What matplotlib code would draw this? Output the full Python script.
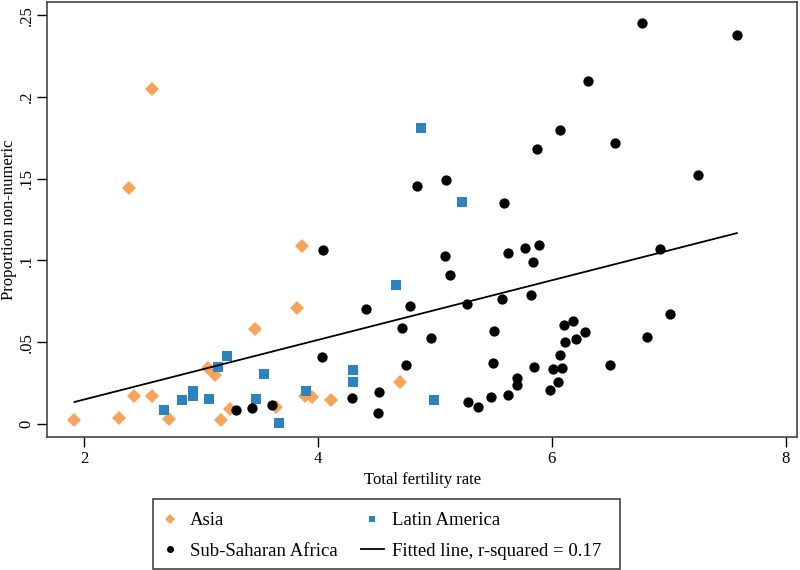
import numpy as np
import matplotlib
matplotlib.use("Agg")
import matplotlib.pyplot as plt
from matplotlib.lines import Line2D
from matplotlib.patches import Rectangle

plt.rcParams['font.family'] = ['Liberation Serif', 'DejaVu Serif']

# Asia
asia_x = [2.58, 2.387, 3.866, 3.818, 3.464, 3.057, 3.122, 2.43, 2.584, 1.917,
          2.30, 2.73, 3.168, 3.25, 3.644, 3.889, 3.951, 4.111, 4.698]
asia_y = [0.205, 0.144, 0.109, 0.071, 0.058, 0.034, 0.030, 0.017, 0.017, 0.0024,
          0.0035, 0.003, 0.0022, 0.0094, 0.0104, 0.0171, 0.0167, 0.0147, 0.0255]

# Latin America
latam_x = [4.88, 5.233, 4.664, 3.225, 3.143, 3.538, 4.299, 4.299, 2.929, 2.932,
           2.838, 3.068, 3.473, 3.897, 2.686, 3.664, 4.994]
latam_y = [0.181, 0.1355, 0.085, 0.0418, 0.035, 0.0304, 0.0328, 0.0259, 0.0202, 0.0169,
           0.0147, 0.0155, 0.0155, 0.0202, 0.0088, 0.0008, 0.0149]

# Sub-Saharan Africa
ssa_x = [6.772, 7.584, 6.31, 6.074, 6.541, 5.874, 7.254, 4.849, 5.094, 5.592,
         5.091, 5.131, 5.624, 5.769, 5.894, 5.838, 6.926, 4.786, 5.276, 5.576,
         5.826, 7.014, 4.72, 4.966, 5.504, 6.105, 6.179, 6.282, 6.208, 6.114,
         6.818, 6.068, 4.752, 5.498, 5.846, 6.011, 6.091, 6.502, 5.706, 5.701,
         6.051, 5.986, 5.479, 5.63, 5.288, 5.37, 4.043, 4.408, 4.031, 4.293,
         4.524, 4.513, 3.296, 3.436, 3.607]
ssa_y = [0.2453, 0.2381, 0.2097, 0.1795, 0.172, 0.1681, 0.1524, 0.1455, 0.1491, 0.1351,
         0.1027, 0.0911, 0.1045, 0.1073, 0.1094, 0.0992, 0.107, 0.0721, 0.0732, 0.0762,
         0.0786, 0.0672, 0.0587, 0.0524, 0.057, 0.0605, 0.0631, 0.056, 0.0518, 0.0501,
         0.053, 0.0422, 0.0359, 0.0373, 0.035, 0.0334, 0.0344, 0.0359, 0.0279, 0.0238,
         0.0255, 0.021, 0.0167, 0.0177, 0.0136, 0.0106, 0.1062, 0.0701, 0.0412, 0.0156,
         0.0196, 0.0069, 0.0088, 0.0095, 0.0116]

# Fitted line
fit_intercept = -0.0215
fit_slope = 0.01822

x_ticks = [2, 4, 6, 8]
x_tick_labels = ["2", "4", "6", "8"]
y_ticks = [0, 0.05, 0.1, 0.15, 0.2, 0.25]
y_tick_labels = ["0", ".05", ".1", ".15", ".2", ".25"]

orange = '#f8a35a'
blue = '#2b83c0'

fig = plt.figure(figsize=(8, 5.7), dpi=100)
ax = fig.add_axes([0.059, 0.2333, 0.9375, 0.7632])

ax.plot(asia_x, asia_y, 'D', color=orange, ms=7, mew=0, linestyle='none')
ax.plot(latam_x, latam_y, 's', color=blue, ms=6.5, mew=0, linestyle='none')
ax.plot(ssa_x, ssa_y, 'o', color='black', ms=7.4, mew=0, linestyle='none')

all_x = np.array(asia_x + latam_x + ssa_x)
xs = np.array([all_x.min(), all_x.max()])
ax.plot(xs, fit_intercept + fit_slope * xs, color='black', lw=1.3)

ax.set_xlim(1.684, 8.10)
ax.set_ylim(-0.008, 0.258)
ax.set_xticks(x_ticks)
ax.set_xticklabels(x_tick_labels, fontsize=12)
ax.set_yticks(y_ticks)
ax.set_yticklabels(y_tick_labels, fontsize=12, rotation=90, va='center')
ax.tick_params(direction='out', length=7, width=1, color='black', pad=3)
ax.tick_params(axis='y', pad=2)
for s in ax.spines.values():
    s.set_color('#444444')
    s.set_linewidth(1.2)
ax.set_xlabel("Total fertility rate", fontsize=12, labelpad=4)
ax.set_ylabel("Proportion non-numeric", fontsize=12, labelpad=1)

# legend frame
fig.add_artist(Rectangle((153 / 800, 1 - 569 / 570), 467 / 800, 70 / 570,
                         transform=fig.transFigure, fill=False,
                         edgecolor='#444444', lw=1.2))

handles = [
    Line2D([], [], marker='D', color=orange, ms=5.5, mew=0, linestyle='none'),
    Line2D([], [], marker='o', color='black', ms=5, mew=0, linestyle='none'),
    Line2D([], [], marker='s', color=blue, ms=5, mew=0, linestyle='none'),
    Line2D([], [], color='black', lw=1.3),
]
labels = ["Asia", "Sub-Saharan Africa", "Latin America", "Fitted line, r-squared = 0.17"]
leg = fig.legend(handles, labels, ncol=2, loc='upper left',
                 bbox_to_anchor=(158.5 / 800, 1 - 512 / 570),
                 fontsize=13.5, frameon=False,
                 handlelength=1.23, handletextpad=0.45,
                 columnspacing=1.23, borderaxespad=0, labelspacing=0.72, borderpad=0)

fig.savefig("out.png", dpi=100)
